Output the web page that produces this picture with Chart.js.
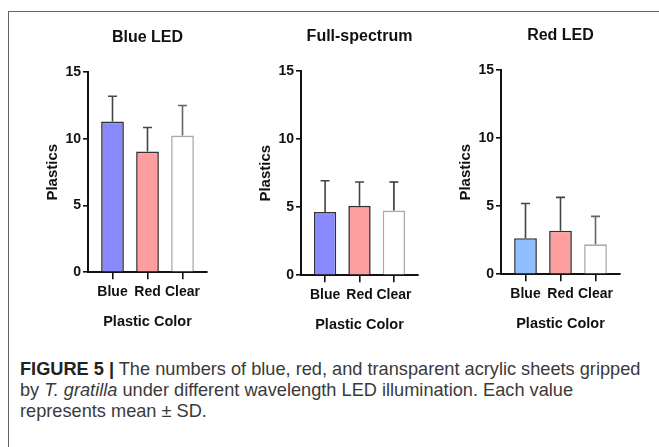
<!DOCTYPE html>
<html>
<head>
<meta charset="utf-8">
<script src="https://cdn.jsdelivr.net/npm/chart.js@4.4.1/dist/chart.umd.min.js"></script>
<style>
  html, body { margin: 0; padding: 0; background: #fff; }
  body { width: 659px; height: 447px; position: relative; overflow: hidden; font-family: "Liberation Sans", Arial, sans-serif; }
  .frame-top { position: absolute; left: 8px; top: 11px; width: 651px; height: 0; border-top: 1.5px solid #666; }
  .frame-left { position: absolute; left: 8px; top: 11px; width: 0; height: 436px; border-left: 1.5px solid #666; }
  .panel { position: absolute; }
  .caption { position: absolute; left: 20px; top: 359px; width: 632px; font-size: 18.2px; line-height: 21px; color: #3a3a3a; }
  .caption b { color: #222; }
</style>
</head>
<body>
<div class="frame-top"></div>
<div class="frame-left"></div>

<div class="panel" id="p1"><canvas id="c1"></canvas></div>
<div class="panel" id="p2"><canvas id="c2"></canvas></div>
<div class="panel" id="p3"><canvas id="c3"></canvas></div>

<div class="caption"><b>FIGURE 5 |</b> The numbers of blue, red, and transparent acrylic sheets gripped by <i>T. gratilla</i> under different wavelength LED illumination. Each value represents mean ± SD.</div>

<script>
// data
const categories = ['Blue', 'Red', 'Clear'];
const yTicks = [0, 5, 10, 15];

const blueLedMeans = [11.3, 9.05, 10.25];
const blueLedSD = [1.9, 1.8, 2.25];

const fullSpectrumMeans = [4.65, 5.1, 4.75];
const fullSpectrumSD = [2.3, 1.75, 2.1];

const redLedMeans = [2.65, 3.2, 2.2];
const redLedSD = [2.55, 2.45, 2.05];

const PAD_LEFT = 20, Y_W = 48, PAD_RIGHT = 23;
const TITLE_TOP = 14, TITLE_BOTTOM = 25;
const X_H = 62, PAD_BOTTOM = 10;

// draws upper error bars from the scales
const errorBars = {
    id: 'errorBars',
    afterDatasetsDraw(chart, args, opts) {
        const ctx = chart.ctx;
        const ds = chart.data.datasets[0];
        const meta = chart.getDatasetMeta(0);
        const yScale = chart.scales.y;
        ctx.save();
        meta.data.forEach((bar, i) => {
            const top = yScale.getPixelForValue(ds.data[i].y);
            const end = yScale.getPixelForValue(ds.data[i].y + opts.sd[i]);
            ctx.strokeStyle = opts.colors[i];
            ctx.lineWidth = 1.6;
            ctx.beginPath();
            ctx.moveTo(bar.x, top);
            ctx.lineTo(bar.x, end);
            ctx.moveTo(bar.x - 4.5, end);
            ctx.lineTo(bar.x + 4.5, end);
            ctx.stroke();
        });
        ctx.restore();
    }
};

function makePanel(id, canvasId, area, title, means, sd, fills, borders, errColors) {
    const w = (area.right - area.left) + PAD_LEFT + Y_W + PAD_RIGHT;
    const h = (area.bottom - area.top) + TITLE_TOP + 19.2 + TITLE_BOTTOM + X_H + PAD_BOTTOM;
    const panel = document.getElementById(id);
    panel.style.left = (area.left - PAD_LEFT - Y_W) + 'px';
    panel.style.top = (area.top - TITLE_TOP - 19.2 - TITLE_BOTTOM) + 'px';
    panel.style.width = w + 'px';
    panel.style.height = h + 'px';

    const points = means.map((v, i) => ({ x: i, y: v }));

    return new Chart(document.getElementById(canvasId), {
        type: 'bar',
        data: {
            datasets: [{
                data: points,
                backgroundColor: fills,
                borderColor: borders,
                borderWidth: 1.6,
                borderSkipped: 'bottom',
                barPercentage: 0.65,
                categoryPercentage: 1
            }]
        },
        options: {
            responsive: true,
            maintainAspectRatio: false,
            animation: false,
            events: [],
            layout: { padding: { left: PAD_LEFT, right: PAD_RIGHT, top: 0, bottom: PAD_BOTTOM } },
            plugins: {
                legend: { display: false },
                tooltip: { enabled: false },
                title: {
                    display: true,
                    text: title,
                    fullSize: false,
                    color: '#111',
                    font: { family: 'Liberation Sans', size: 16, weight: 'bold', lineHeight: 1.2 },
                    padding: { top: TITLE_TOP, bottom: TITLE_BOTTOM }
                },
                errorBars: { sd: sd, colors: errColors }
            },
            scales: {
                x: {
                    type: 'linear',
                    min: -0.7,
                    max: 2.7,
                    offset: false,
                    afterBuildTicks: (scale) => { scale.ticks = categories.map((c, i) => ({ value: i })); },
                    afterFit: (scale) => { scale.height = X_H; },
                    ticks: {
                        callback: (v) => categories[v],
                        color: '#111',
                        padding: 5,
                        maxRotation: 0,
                        autoSkip: false,
                        font: { family: 'Liberation Sans', size: 14, weight: 'bold' }
                    },
                    grid: { display: true, offset: false, drawOnChartArea: false, drawTicks: true, tickLength: 7, color: '#111', lineWidth: 1.6 },
                    border: { display: true, color: '#111', width: 2 },
                    title: {
                        display: true,
                        text: 'Plastic Color',
                        color: '#111',
                        font: { family: 'Liberation Sans', size: 14.5, weight: 'bold', lineHeight: 1.2 },
                        padding: { top: 4, bottom: 4 }
                    }
                },
                y: {
                    min: 0,
                    max: 15,
                    afterBuildTicks: (scale) => { scale.ticks = yTicks.map(v => ({ value: v })); },
                    afterFit: (scale) => { scale.width = Y_W; },
                    ticks: {
                        color: '#111',
                        padding: 2,
                        font: { family: 'Liberation Sans', size: 14, weight: 'bold' }
                    },
                    grid: { display: true, drawOnChartArea: false, drawTicks: true, tickLength: 5, color: '#111', lineWidth: 1.6 },
                    border: { display: true, color: '#111', width: 2 },
                    title: {
                        display: true,
                        text: 'Plastics',
                        color: '#111',
                        font: { family: 'Liberation Sans', size: 15, weight: 'bold', lineHeight: 1.2 },
                        padding: { top: 4, bottom: 4 }
                    }
                }
            }
        },
        plugins: [errorBars]
    });
}

makePanel('p1', 'c1', { left: 88, top: 72, right: 207, bottom: 272 }, 'Blue LED',
    blueLedMeans, blueLedSD,
    ['#8888ff', '#ff9e9e', '#ffffff'], ['#333', '#333', '#aaa'], ['#444', '#444', '#666']);

makePanel('p2', 'c2', { left: 301, top: 71, right: 418, bottom: 275 }, 'Full-spectrum',
    fullSpectrumMeans, fullSpectrumSD,
    ['#8888ff', '#ff9e9e', '#ffffff'], ['#333', '#333', '#aaa'], ['#444', '#444', '#333']);

makePanel('p3', 'c3', { left: 501, top: 70, right: 620, bottom: 274 }, 'Red LED',
    redLedMeans, redLedSD,
    ['#8fbfff', '#ff9e9e', '#ffffff'], ['#333', '#333', '#aaa'], ['#444', '#444', '#666']);
</script>
</body>
</html>
